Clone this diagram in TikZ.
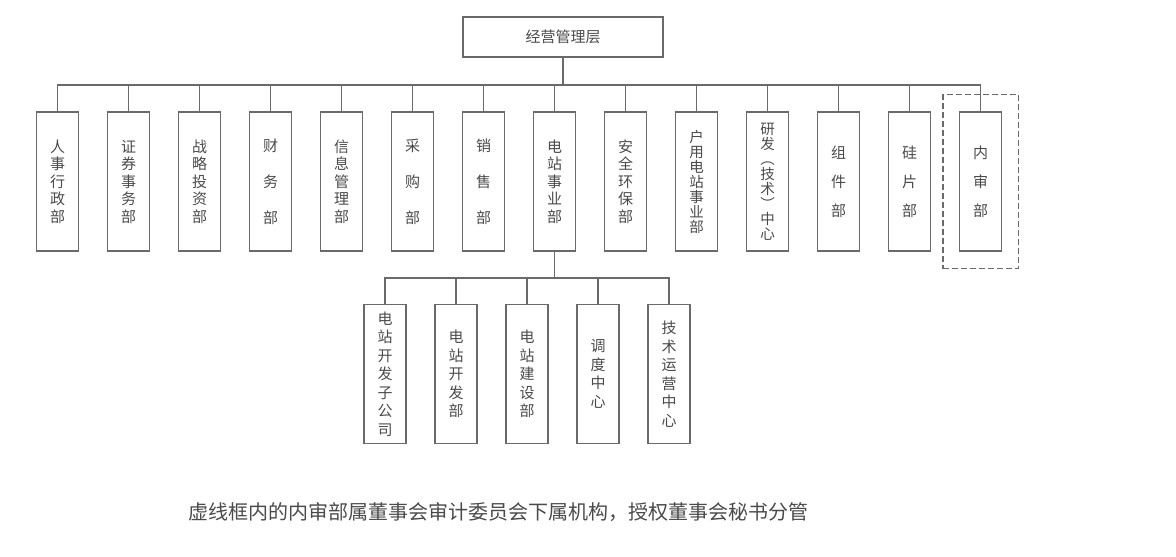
\documentclass[tikz,border=0pt]{standalone}
\usepackage{fontspec}
\setmainfont{Noto Sans CJK SC}
\usetikzlibrary{fit}
\definecolor{linegray}{HTML}{6A6A6A}
\definecolor{textgray}{HTML}{4A4A4A}
\tikzset{
  dept/.style = {draw=linegray, line width=1.2pt, minimum width=42pt, minimum height=139pt,
    inner sep=0pt, align=center, text=textgray, font=\fontsize{15}{17.5}\selectfont},
  deptwide/.style = {dept, font=\fontsize{15}{36}\selectfont},
  deptmid/.style = {dept, font=\fontsize{15}{29}\selectfont},
  deptlong/.style = {dept, font=\fontsize{14.5}{15}\selectfont},
  deptlow/.style = {dept, font=\fontsize{15}{18.5}\selectfont},
  tree/.style = {to path={-| (\tikztotarget)}},
  link/.style = {draw=linegray, line width=1.2pt}
}

\begin{document}
\begin{tikzpicture}[x=1pt, y=-1pt]
\useasboundingbox (0,0) rectangle (1176,557);
% nodes
\node[draw=linegray, line width=1.2pt, minimum width=200pt, minimum height=40pt, text=textgray,
  font=\fontsize{15}{15}\selectfont] (top) at (563,37) {经营管理层};
\node[dept]     (rs) at (57.5,181.5)  {人\\事\\行\\政\\部};
\node[dept]     (zq) at (128.5,181.5) {证\\券\\事\\务\\部};
\node[dept]     (zl) at (199.5,181.5) {战\\略\\投\\资\\部};
\node[deptwide] (cw) at (270.5,181.5) {财\\务\\部};
\node[dept]     (xx) at (341.5,181.5) {信\\息\\管\\理\\部};
\node[deptwide] (cg) at (412.5,181.5) {采\\购\\部};
\node[deptwide] (xs) at (483.5,181.5) {销\\售\\部};
\node[dept]     (dz) at (554.5,181.5) {电\\站\\事\\业\\部};
\node[dept]     (aq) at (625.5,181.5) {安\\全\\环\\保\\部};
\node[deptlong] (hy) at (696.5,181.5) {户\\用\\电\\站\\事\\业\\部};
\node[deptlong] (yf) at (767.5,181.5) {研\\发\\︵\\技\\术\\︶\\中\\心};
\node[deptmid]  (zj) at (838.5,181.5) {组\\件\\部};
\node[deptmid]  (gp) at (909.5,181.5) {硅\\片\\部};
\node[deptmid]  (ns) at (980.5,181.5) {内\\审\\部};
\node[draw=linegray, line width=1.2pt, dash pattern=on 6pt off 3pt, inner xsep=16pt, inner ysep=17pt,
  fit=(ns)] (nsbox) {};
% second level
\node[deptlow] (kfgs) at (385,374) {电\\站\\开\\发\\子\\公\\司};
\node[deptlow] (kfb)  at (456,374) {电\\站\\开\\发\\部};
\node[deptlow] (jsb)  at (527,374) {电\\站\\建\\设\\部};
\node[deptlow] (ddzx) at (598,374) {调\\度\\中\\心};
\node[deptlow] (jyzx) at (669,374) {技\\术\\运\\营\\中\\心};
\node[text=textgray, font=\fontsize{20}{20}\selectfont] (note) at (498,512)
  {虚线框内的内审部属董事会审计委员会下属机构，授权董事会秘书分管};
\coordinate (hub) at (563,85);
\coordinate (hub2) at (554.5,278);
% edges
\draw[link]
(top)	-- (hub)
(hub)	edge [tree] (rs.north)
(hub)	edge [tree] (zq.north)
(hub)	edge [tree] (zl.north)
(hub)	edge [tree] (cw.north)
(hub)	edge [tree] (xx.north)
(hub)	edge [tree] (cg.north)
(hub)	edge [tree] (xs.north)
(hub)	edge [tree] (dz.north)
(hub)	edge [tree] (aq.north)
(hub)	edge [tree] (hy.north)
(hub)	edge [tree] (yf.north)
(hub)	edge [tree] (zj.north)
(hub)	edge [tree] (gp.north)
(hub)	edge [tree] (ns.north);
\draw[link]
(dz)	-- (hub2)
(hub2)	edge [tree] (kfgs.north)
(hub2)	edge [tree] (kfb.north)
(hub2)	edge [tree] (jsb.north)
(hub2)	edge [tree] (ddzx.north)
(hub2)	edge [tree] (jyzx.north);
\end{tikzpicture}
\end{document}
